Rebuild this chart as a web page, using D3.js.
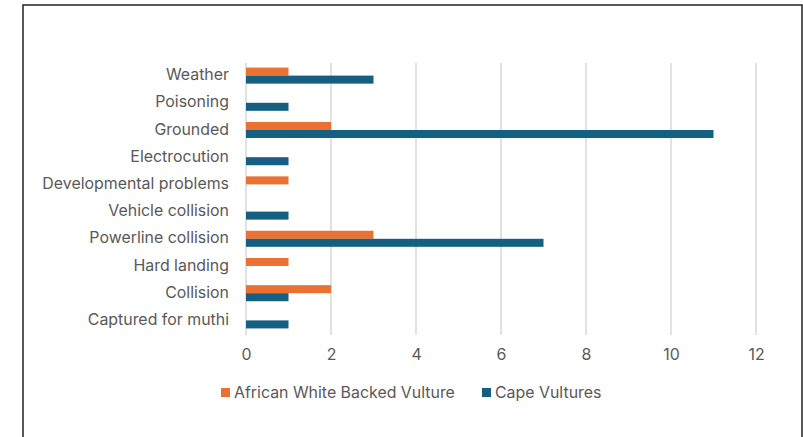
<!DOCTYPE html>
<html>
<head>
<meta charset="utf-8">
<script src="https://cdn.jsdelivr.net/npm/d3@7"></script>
<style>
  html, body { margin: 0; padding: 0; background: #fff; }
  svg { display: block; }
  text { font-family: "Inter", "Open Sans", sans-serif; fill: #595959; }
</style>
</head>
<body>
<svg id="chart" width="803" height="437"></svg>
<script>
// Causes of vulture admissions, top to bottom
const categories = [
  "Weather", "Poisoning", "Grounded", "Electrocution", "Developmental problems",
  "Vehicle collision", "Powerline collision", "Hard landing", "Collision", "Captured for muthi"
];
const seriesNames = ["African White Backed Vulture", "Cape Vultures"];
const africanWhiteBacked = [1, 0, 2, 0, 1, 0, 3, 1, 2, 0];
const capeVultures = [3, 1, 11, 1, 0, 1, 7, 0, 1, 1];
const xTicks = [0, 2, 4, 6, 8, 10, 12];
const colors = ["#E97132", "#156082"];
const fontSize = 15.9;

const svg = d3.select("#chart");

// outer frame
svg.append("rect")
  .attr("x", 23).attr("y", 5)
  .attr("width", 779).attr("height", 460)
  .attr("fill", "none").attr("stroke", "#222").attr("stroke-width", 1.5);

const x = d3.scaleLinear().domain([0, 12]).range([246, 756]);
const y = d3.scaleBand().domain(categories).range([62, 334]).paddingInner(0.41).paddingOuter(0.205);
const sub = d3.scaleBand().domain(seriesNames).range([0, y.bandwidth()]);

// vertical gridlines
svg.append("g").selectAll("line").data(xTicks).join("line")
  .attr("x1", d => x(d)).attr("x2", d => x(d))
  .attr("y1", 63).attr("y2", 335)
  .attr("stroke", "#d9d9d9").attr("stroke-width", 1.5);

// x tick labels
const xAxis = d3.axisBottom(x).tickValues(xTicks).tickSize(0).tickPadding(0);
const gx = svg.append("g").attr("transform", "translate(0,349)").call(xAxis);
gx.select(".domain").remove();
gx.selectAll("text").attr("font-size", fontSize).attr("fill", "#595959")
  .style("font-family", "Inter, 'Open Sans', sans-serif");

// category labels
const yAxis = d3.axisLeft(y).tickSize(0).tickPadding(0);
const gy = svg.append("g").attr("transform", "translate(229,-0.5)").call(yAxis);
gy.select(".domain").remove();
gy.selectAll("text").attr("font-size", fontSize).attr("fill", "#595959")
  .style("font-family", "Inter, 'Open Sans', sans-serif");

// bars
const seriesData = [africanWhiteBacked, capeVultures];
seriesData.forEach((vals, si) => {
  svg.append("g").selectAll("rect").data(vals).join("rect")
    .attr("x", x(0))
    .attr("y", (d, i) => y(categories[i]) + sub(seriesNames[si]))
    .attr("width", d => x(d) - x(0))
    .attr("height", sub.bandwidth())
    .attr("fill", colors[si]);
});

// legend
const legendItems = [
  { name: seriesNames[0], color: colors[0], x: 221 },
  { name: seriesNames[1], color: colors[1], x: 482 }
];
const lg = svg.append("g");
legendItems.forEach(item => {
  lg.append("rect").attr("x", item.x).attr("y", 388).attr("width", 9).attr("height", 9)
    .attr("fill", item.color);
  lg.append("text").attr("x", item.x + 13).attr("y", 392).attr("dy", "0.35em")
    .attr("font-size", fontSize).text(item.name);
});
</script>
</body>
</html>
